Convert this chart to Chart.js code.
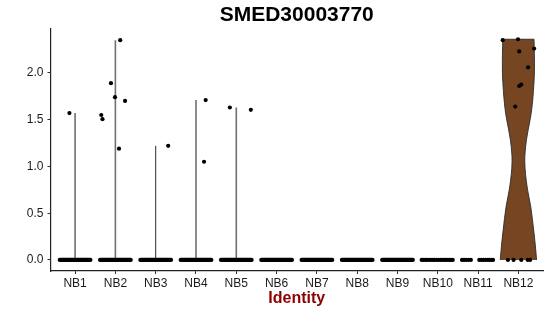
<!DOCTYPE html>
<html><head><meta charset="utf-8">
<script src="https://cdn.jsdelivr.net/npm/chart.js@4/dist/chart.umd.min.js"></script>
<style>html,body{margin:0;padding:0;background:#fff}canvas{display:block}</style>
</head><body>
<canvas id="c" width="550" height="316"></canvas>
<script>
// ---- data ----
const chartTitle = 'SMED30003770';
const xTitle = 'Identity';
const categories = ['NB1','NB2','NB3','NB4','NB5','NB6','NB7','NB8','NB9','NB10','NB11','NB12'];
const yTicks = [0, 0.5, 1.0, 1.5, 2.0];

// non-zero expression values (cells) and their horizontal jitter (category units)
const valuesNB1 = [1.57];
const jitterNB1 = [-0.14];
const valuesNB2 = [1.55, 1.505, 1.89, 1.74, 1.70, 1.19, 2.35];
const jitterNB2 = [-0.35, -0.32, -0.11, -0.01, 0.24, 0.09, 0.12];
const valuesNB3 = [1.22];
const jitterNB3 = [0.31];
const valuesNB4 = [1.71, 1.05];
const jitterNB4 = [0.24, 0.20];
const valuesNB5 = [1.63, 1.605];
const jitterNB5 = [-0.16, 0.36];
const valuesNB12 = [2.35, 2.36, 2.26, 2.23, 2.06, 1.86, 1.875, 1.64];
const jitterNB12 = [-0.39, -0.01, 0.39, 0.02, 0.24, 0.02, 0.07, -0.08];

// identities whose many zero-valued cells merge into a solid band
const denseZeroCats = ['NB1','NB2','NB3','NB4','NB5','NB6','NB7','NB8','NB9'];
// sparse zero-valued cells (jitter positions)
const zeroJitterNB10 = [-0.40,-0.36,-0.31,-0.27,-0.22,-0.17,-0.12,-0.08,-0.03,0.02,0.07,0.11,0.16,0.20,0.25,0.29,0.33,0.37];
const zeroJitterNB11 = [-0.40,-0.35,-0.30,-0.24,-0.18,0.03,0.08,0.13,0.18,0.24,0.29,0.33,0.37];
const zeroJitterNB12 = [-0.26,-0.12,0.07,0.23,0.29];

// NB12 violin: relative density at expression levels
const nb12Levels  = [0, 0.15, 0.32, 0.57, 0.78, 1.05, 1.28, 1.5, 1.62, 1.8, 2.0, 2.2, 2.36];
const nb12Density = [1.0, 0.935, 0.84, 0.68, 0.48, 0.35, 0.44, 0.645, 0.74, 0.825, 0.88, 0.88, 0.86];

// ---- build datasets ----
const FONT = "'Liberation Sans', Arial, Helvetica, sans-serif";
const HALF = 0.45;   // max violin half width
const JIT = 0.38;    // jitter band half width
const X = n => categories.indexOf(n) + 1;

const datasets = [];

// NB12 violin outline (corners doubled so the smoothed sides meet the flat ends cleanly)
const poly = [];
const last = nb12Levels.length - 1;
nb12Levels.forEach((v, i) => {
  const p = {x: X('NB12') + nb12Density[i] * HALF, y: v};
  poly.push(p); if (i === 0 || i === last) poly.push({...p});
});
for (let i = last; i >= 0; i--) {
  const p = {x: X('NB12') - nb12Density[i] * HALF, y: nb12Levels[i]};
  poly.push(p); if (i === 0 || i === last) poly.push({...p});
}
datasets.push({data: poly, order: 4, borderColor: '#2b2b2b', borderWidth: 0.9, backgroundColor: '#764522',
  fill: 'shape', pointRadius: 0, tension: 0.35});

// thin violins for NB1..NB5
const stems = [['NB1', valuesNB1, '#707070', 1.6], ['NB2', valuesNB2, '#707070', 1.6], ['NB3', valuesNB3, '#2a2a2a', 1.0],
               ['NB4', valuesNB4, '#707070', 1.6], ['NB5', valuesNB5, '#707070', 1.6]];
stems.forEach(([n, vals, col, w]) => {
  datasets.push({data: [{x: X(n), y: 0}, {x: X(n), y: Math.max(...vals)}], order: 3, borderColor: col, borderWidth: w,
    pointRadius: 0, fill: false});
});

// dense zero bands
denseZeroCats.forEach(n => {
  datasets.push({data: [{x: X(n) - JIT, y: 0}, {x: X(n) + JIT, y: 0}], order: 2, borderColor: '#000', borderWidth: 4.2,
    borderCapStyle: 'round', pointRadius: 0, fill: false});
});

// points
const pts = [];
[['NB1', valuesNB1, jitterNB1], ['NB2', valuesNB2, jitterNB2], ['NB3', valuesNB3, jitterNB3],
 ['NB4', valuesNB4, jitterNB4], ['NB5', valuesNB5, jitterNB5], ['NB12', valuesNB12, jitterNB12]].forEach(([n, v, j]) => {
  v.forEach((val, i) => pts.push({x: X(n) + j[i], y: val}));
});
[['NB10', zeroJitterNB10], ['NB11', zeroJitterNB11], ['NB12', zeroJitterNB12]].forEach(([n, j]) => {
  j.forEach(o => pts.push({x: X(n) + o, y: 0}));
});
datasets.push({data: pts, order: 0, showLine: false, pointRadius: 2.1, pointBackgroundColor: '#000', pointBorderWidth: 0, borderColor: '#000'});

const yMax = 2.36, ySpan = 2.36;
new Chart(document.getElementById('c'), {
  type: 'line',
  data: {datasets},
  options: {
    responsive: false, animation: false, events: [],
    layout: {padding: {left: 0, right: 7, top: 0, bottom: 7.4}},
    plugins: {
      legend: {display: false}, tooltip: {enabled: false},
      title: {display: true, text: chartTitle, fullSize: false, color: '#000',
        font: {family: FONT, size: 21, weight: 'bold', lineHeight: 1.2}, padding: {top: 3, bottom: 0}}
    },
    scales: {
      x: {
        type: 'linear', min: 0.39, max: 12.61,
        afterBuildTicks: s => { s.ticks = categories.map((c, i) => ({value: i + 1})); },
        afterFit: s => { s.height = 37.6; },
        ticks: {autoSkip: false, maxRotation: 0, minRotation: 0, padding: 2, color: '#1a1a1a',
          font: {family: FONT, size: 12}, callback: v => categories[v - 1]},
        grid: {display: true, drawOnChartArea: false, drawTicks: true, tickLength: 3, color: '#333', tickWidth: 1},
        border: {display: true, color: '#222', width: 1.2},
        title: {display: true, text: xTitle, color: '#8B0000', font: {family: FONT, size: 16, weight: 'bold', lineHeight: 1.2},
          padding: {top: 0, bottom: 0}}
      },
      y: {
        type: 'linear', min: -0.05 * ySpan, max: yMax + 0.05 * ySpan,
        afterBuildTicks: s => { s.ticks = yTicks.map(v => ({value: v})); },
        afterFit: s => { s.width = 50.5; },
        ticks: {padding: 4, color: '#1a1a1a', font: {family: FONT, size: 12}, callback: v => Number(v).toFixed(1)},
        grid: {display: true, drawOnChartArea: false, drawTicks: true, tickLength: 3, color: '#333', tickWidth: 1},
        border: {display: true, color: '#222', width: 1.2}
      }
    }
  }
});
</script>
</body></html>
